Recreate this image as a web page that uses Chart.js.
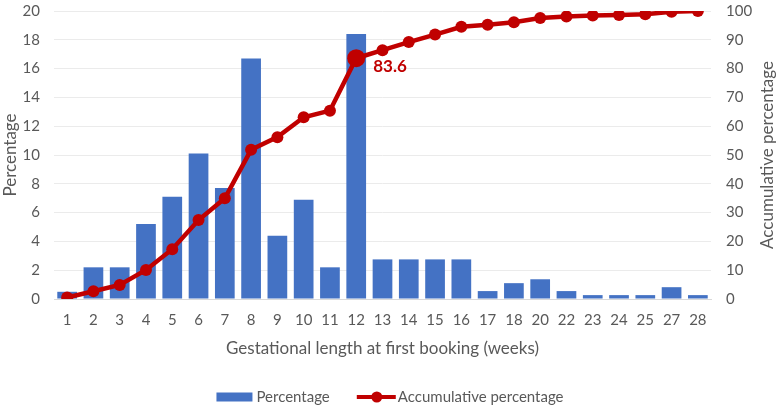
<!DOCTYPE html>
<html>
<head>
<meta charset="utf-8">
<script src="https://cdn.jsdelivr.net/npm/chart.js@4.4.1/dist/chart.umd.min.js"></script>
<style>
  html, body { margin: 0; padding: 0; background: #fff; }
  #wrap { width: 780px; height: 405px; position: relative; }
</style>
</head>
<body>
<div id="wrap"><canvas id="chartCanvas"></canvas></div>
<script>
// weeks at first booking (19, 21, 26 not present)
const weeks = ['1','2','3','4','5','6','7','8','9','10','11','12','13','14','15','16','17','18','20','22','23','24','25','27','28'];
const percentage = [0.5, 2.2, 2.2, 5.2, 7.1, 10.1, 7.7, 16.7, 4.4, 6.9, 2.2, 18.4, 2.75, 2.75, 2.75, 2.75, 0.55, 1.1, 1.37, 0.55, 0.27, 0.27, 0.27, 0.82, 0.27];
const cumulative = [0.5, 2.7, 4.9, 10.1, 17.3, 27.4, 35.0, 51.8, 56.2, 63.1, 65.4, 83.6, 86.4, 89.2, 91.8, 94.5, 95.2, 96.1, 97.6, 98.1, 98.4, 98.6, 98.9, 99.7, 100];
const leftTicks = [0, 2, 4, 6, 8, 10, 12, 14, 16, 18, 20];
const rightTicks = [0, 10, 20, 30, 40, 50, 60, 70, 80, 90, 100];
const highlightIdx = 11;

const BLUE = '#4472C4';
const RED = '#C00000';
const TXT = '#595959';
const FONT = 'Lato, "Open Sans", sans-serif';

const extrasPlugin = {
  id: 'extras',
  afterDatasetsDraw(chart) {
    const pt = chart.getDatasetMeta(1).data[highlightIdx];
    const g = chart.ctx;
    g.save();
    g.fillStyle = RED;
    g.font = 'bold 17px ' + FONT;
    g.textBaseline = 'middle';
    g.fillText(cumulative[highlightIdx].toFixed(1), pt.x + 17, pt.y + 8);
    g.restore();
  },
  afterDraw(chart) {
    const a = chart.chartArea;
    const g = chart.ctx;
    g.save();
    // right axis title, bottom-to-top like the left one
    g.translate(768, (a.top + a.bottom) / 2);
    g.rotate(-Math.PI / 2);
    g.fillStyle = TXT;
    g.font = '17px ' + FONT;
    g.textAlign = 'center';
    g.textBaseline = 'middle';
    g.fillText('Accumulative percentage', 0, 0);
    g.restore();

    // legend
    const names = chart.data.datasets.map(d => d.label);
    g.save();
    g.font = '15px ' + FONT;
    g.textBaseline = 'middle';
    const w1 = g.measureText(names[0]).width;
    const w2 = g.measureText(names[1]).width;
    const total = 36 + 4 + w1 + 27 + 39 + 2 + w2;
    let x = chart.width / 2 - total / 2;
    const y = 397;
    g.fillStyle = BLUE;
    g.fillRect(x, y - 4.5, 36, 9);
    x += 40;
    g.fillStyle = TXT;
    g.fillText(names[0], x, y);
    x += w1 + 27;
    g.strokeStyle = RED;
    g.lineWidth = 4;
    g.beginPath(); g.moveTo(x, y); g.lineTo(x + 39, y); g.stroke();
    g.fillStyle = RED;
    g.beginPath(); g.arc(x + 20, y, 5.5, 0, Math.PI * 2); g.fill();
    x += 41;
    g.fillStyle = TXT;
    g.fillText(names[1], x, y);
    g.restore();
  }
};

const ctx = document.getElementById('chartCanvas').getContext('2d');
new Chart(ctx, {
  data: {
    labels: weeks,
    datasets: [
      {
        type: 'bar',
        label: 'Percentage',
        data: percentage,
        yAxisID: 'y',
        backgroundColor: BLUE,
        barPercentage: 0.75,
        categoryPercentage: 1,
        order: 1
      },
      {
        type: 'line',
        label: 'Accumulative percentage',
        data: cumulative,
        yAxisID: 'y2',
        borderColor: RED,
        backgroundColor: RED,
        borderWidth: 4.5,
        pointRadius: weeks.map((w, i) => i === highlightIdx ? 9 : 6),
        pointBackgroundColor: RED,
        pointBorderWidth: 0,
        tension: 0,
        order: 0
      }
    ]
  },
  options: {
    responsive: true,
    maintainAspectRatio: false,
    animation: false,
    layout: { padding: 0 },
    plugins: {
      legend: { display: false },
      tooltip: { enabled: false }
    },
    scales: {
      x: {
        grid: { display: false, drawTicks: false },
        border: { display: true, color: '#d9d9d9', width: 1 },
        ticks: { color: TXT, font: { family: FONT, size: 15 }, maxRotation: 0, autoSkip: false, padding: 12 },
        title: { display: true, text: 'Gestational length at first booking (weeks)', color: TXT, font: { family: FONT, size: 17 }, padding: { top: 4, bottom: 46 } },
        afterFit: s => { s.height = 106; }
      },
      y: {
        position: 'left',
        min: 0, max: 20,
        afterBuildTicks: s => { s.ticks = leftTicks.map(v => ({ value: v })); },
        grid: { color: '#ebebeb', drawTicks: false },
        border: { display: false },
        ticks: { color: TXT, font: { family: FONT, size: 15 }, padding: 14 },
        title: { display: true, text: 'Percentage', color: TXT, font: { family: FONT, size: 17 }, padding: 0 },
        afterFit: s => { s.width = 54; s.paddingTop = 11; s.paddingBottom = 9; }
      },
      y2: {
        position: 'right',
        min: 0, max: 100,
        afterBuildTicks: s => { s.ticks = rightTicks.map(v => ({ value: v })); },
        grid: { display: false, drawTicks: false },
        border: { display: false },
        ticks: { color: TXT, font: { family: FONT, size: 15 }, padding: 15 },
        afterFit: s => { s.width = 69; s.paddingTop = 11; s.paddingBottom = 9; }
      }
    }
  },
  plugins: [extrasPlugin]
});
</script>
</body>
</html>
